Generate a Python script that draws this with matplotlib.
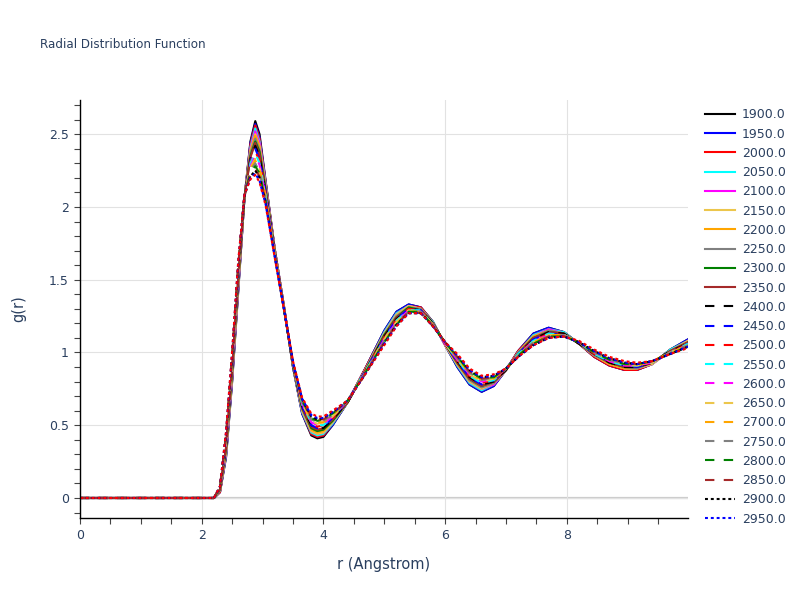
import matplotlib
matplotlib.use("Agg")
import matplotlib.pyplot as plt
from matplotlib.ticker import MultipleLocator

# r grid shared by every temperature (Angstrom)
r = [0.0, 2.2, 2.3, 2.4, 2.5, 2.6, 2.7, 2.8, 2.88, 2.95, 3.05, 3.2, 3.35, 3.5, 3.65,
     3.8, 3.9, 4.0, 4.15, 4.4, 4.7, 5.0, 5.2, 5.4, 5.6, 5.8, 6.0, 6.2, 6.4, 6.6, 6.8,
     7.0, 7.2, 7.45, 7.7, 7.95, 8.2, 8.45, 8.7, 8.95, 9.15, 9.4, 9.7, 9.99]

temps = [1900, 1950, 2000, 2050, 2100, 2150, 2200, 2250, 2300, 2350, 2400,
         2450, 2500, 2550, 2600, 2650, 2700, 2750, 2800, 2850, 2900, 2950, 3000]

g_1900 = [0, 0, .04, .28, .80, 1.42, 2.05, 2.45, 2.59, 2.50, 2.18, 1.71, 1.32, .90, .58, .43, .41, .42, .50, .66, .90, 1.15, 1.28, 1.33, 1.31, 1.21, 1.05, .90, .78, .73, .77, .88, 1.01, 1.13, 1.17, 1.14, 1.06, .97, .91, .88, .88, .92, 1.02, 1.09]
g_1950 = [0, 0, .04, .29, .81, 1.43, 2.05, 2.44, 2.57, 2.48, 2.17, 1.71, 1.32, .90, .58, .44, .42, .43, .50, .66, .90, 1.15, 1.28, 1.33, 1.31, 1.21, 1.05, .90, .78, .73, .77, .88, 1.01, 1.13, 1.17, 1.14, 1.06, .97, .91, .88, .88, .92, 1.02, 1.09]
g_2000 = [0, 0, .04, .30, .82, 1.44, 2.05, 2.43, 2.56, 2.47, 2.17, 1.71, 1.32, .90, .59, .44, .42, .43, .51, .66, .90, 1.14, 1.27, 1.32, 1.31, 1.21, 1.05, .91, .79, .74, .78, .88, 1.01, 1.12, 1.16, 1.14, 1.06, .97, .91, .88, .88, .92, 1.02, 1.08]
g_2050 = [0, 0, .05, .30, .83, 1.45, 2.05, 2.41, 2.54, 2.45, 2.16, 1.70, 1.32, .90, .59, .45, .43, .44, .51, .66, .89, 1.14, 1.27, 1.32, 1.30, 1.21, 1.05, .91, .79, .74, .78, .88, 1.00, 1.12, 1.16, 1.14, 1.06, .98, .92, .89, .89, .92, 1.02, 1.08]
g_2100 = [0, 0, .05, .31, .84, 1.46, 2.05, 2.40, 2.52, 2.44, 2.15, 1.70, 1.32, .91, .60, .46, .44, .45, .52, .66, .89, 1.13, 1.26, 1.32, 1.30, 1.20, 1.05, .92, .80, .75, .78, .88, 1.00, 1.11, 1.16, 1.13, 1.06, .98, .92, .89, .89, .92, 1.01, 1.08]
g_2150 = [0, 0, .05, .32, .85, 1.47, 2.05, 2.39, 2.50, 2.42, 2.14, 1.70, 1.32, .91, .60, .46, .44, .45, .52, .66, .89, 1.13, 1.26, 1.32, 1.30, 1.20, 1.05, .92, .80, .75, .79, .88, 1.00, 1.11, 1.15, 1.13, 1.06, .98, .92, .89, .89, .92, 1.01, 1.08]
g_2200 = [0, 0, .05, .33, .86, 1.48, 2.06, 2.38, 2.49, 2.41, 2.13, 1.70, 1.31, .91, .61, .47, .45, .46, .53, .66, .89, 1.12, 1.25, 1.31, 1.30, 1.20, 1.06, .92, .81, .76, .79, .88, 1.00, 1.11, 1.15, 1.13, 1.06, .98, .92, .89, .89, .93, 1.01, 1.07]
g_2250 = [0, 0, .05, .34, .87, 1.49, 2.06, 2.37, 2.47, 2.39, 2.13, 1.69, 1.31, .91, .61, .48, .46, .47, .53, .66, .89, 1.12, 1.25, 1.31, 1.30, 1.20, 1.06, .93, .81, .76, .79, .88, 1.00, 1.10, 1.15, 1.13, 1.06, .98, .93, .90, .89, .93, 1.01, 1.07]
g_2300 = [0, 0, .06, .34, .88, 1.50, 2.06, 2.35, 2.45, 2.38, 2.12, 1.69, 1.31, .91, .62, .48, .46, .47, .53, .66, .88, 1.12, 1.24, 1.31, 1.29, 1.20, 1.06, .93, .82, .77, .80, .88, .99, 1.10, 1.14, 1.13, 1.06, .99, .93, .90, .90, .93, 1.01, 1.07]
g_2350 = [0, 0, .06, .35, .89, 1.51, 2.06, 2.34, 2.44, 2.36, 2.11, 1.69, 1.31, .91, .62, .49, .47, .48, .54, .66, .88, 1.11, 1.24, 1.30, 1.29, 1.20, 1.06, .93, .82, .77, .80, .88, .99, 1.10, 1.14, 1.13, 1.06, .99, .93, .90, .90, .93, 1.01, 1.07]
g_2400 = [0, 0, .06, .36, .90, 1.52, 2.06, 2.33, 2.42, 2.35, 2.10, 1.69, 1.31, .91, .63, .50, .48, .48, .54, .66, .88, 1.11, 1.23, 1.30, 1.29, 1.20, 1.06, .94, .83, .78, .80, .88, .99, 1.09, 1.14, 1.13, 1.06, .99, .93, .90, .90, .93, 1.01, 1.06]
g_2450 = [0, 0, .06, .37, .90, 1.52, 2.06, 2.32, 2.40, 2.33, 2.10, 1.68, 1.31, .92, .63, .50, .48, .49, .55, .67, .88, 1.10, 1.23, 1.30, 1.29, 1.19, 1.06, .94, .83, .78, .81, .89, .99, 1.09, 1.13, 1.12, 1.07, .99, .94, .91, .90, .93, 1.00, 1.06]
g_2500 = [0, 0, .06, .38, .91, 1.53, 2.06, 2.31, 2.38, 2.32, 2.09, 1.68, 1.31, .92, .64, .51, .49, .50, .55, .67, .88, 1.10, 1.22, 1.30, 1.29, 1.19, 1.06, .95, .84, .79, .81, .89, .99, 1.08, 1.13, 1.12, 1.07, .99, .94, .91, .91, .93, 1.00, 1.06]
g_2550 = [0, 0, .06, .39, .92, 1.54, 2.06, 2.30, 2.37, 2.30, 2.08, 1.68, 1.31, .92, .64, .52, .50, .50, .56, .67, .88, 1.09, 1.22, 1.29, 1.29, 1.19, 1.06, .95, .84, .79, .81, .89, .99, 1.08, 1.13, 1.12, 1.07, .99, .94, .91, .91, .93, 1.00, 1.06]
g_2600 = [0, 0, .07, .39, .93, 1.55, 2.07, 2.28, 2.35, 2.29, 2.07, 1.68, 1.31, .92, .65, .52, .50, .51, .56, .67, .87, 1.09, 1.21, 1.29, 1.28, 1.19, 1.06, .95, .85, .80, .82, .89, .98, 1.08, 1.12, 1.12, 1.07, 1.00, .94, .91, .91, .93, 1.00, 1.05]
g_2650 = [0, 0, .07, .40, .94, 1.56, 2.07, 2.27, 2.33, 2.27, 2.07, 1.67, 1.31, .92, .65, .53, .51, .52, .56, .67, .87, 1.09, 1.21, 1.29, 1.28, 1.19, 1.06, .96, .85, .80, .82, .89, .98, 1.07, 1.12, 1.12, 1.07, 1.00, .95, .92, .91, .93, 1.00, 1.05]
g_2700 = [0, 0, .07, .41, .95, 1.57, 2.07, 2.26, 2.32, 2.26, 2.06, 1.67, 1.30, .92, .66, .54, .52, .52, .57, .67, .87, 1.08, 1.20, 1.28, 1.28, 1.19, 1.07, .96, .86, .81, .82, .89, .98, 1.07, 1.12, 1.12, 1.07, 1.00, .95, .92, .91, .94, 1.00, 1.05]
g_2750 = [0, 0, .07, .42, .96, 1.58, 2.07, 2.25, 2.30, 2.24, 2.05, 1.67, 1.30, .92, .66, .54, .52, .53, .57, .67, .87, 1.08, 1.20, 1.28, 1.28, 1.19, 1.07, .96, .86, .81, .83, .89, .98, 1.07, 1.11, 1.12, 1.07, 1.00, .95, .92, .92, .94, 1.00, 1.05]
g_2800 = [0, 0, .07, .43, .97, 1.59, 2.07, 2.24, 2.28, 2.23, 2.04, 1.67, 1.30, .93, .67, .55, .53, .54, .58, .67, .87, 1.07, 1.19, 1.28, 1.28, 1.18, 1.07, .97, .87, .82, .83, .89, .98, 1.06, 1.11, 1.11, 1.07, 1.00, .95, .92, .92, .94, .99, 1.04]
g_2850 = [0, 0, .08, .43, .98, 1.60, 2.07, 2.22, 2.26, 2.21, 2.04, 1.66, 1.30, .93, .67, .56, .54, .54, .58, .67, .86, 1.07, 1.19, 1.28, 1.27, 1.18, 1.07, .97, .87, .82, .83, .89, .97, 1.06, 1.11, 1.11, 1.07, 1.01, .96, .93, .92, .94, .99, 1.04]
g_2900 = [0, 0, .08, .44, .99, 1.61, 2.07, 2.21, 2.25, 2.20, 2.03, 1.66, 1.30, .93, .68, .56, .54, .55, .59, .67, .86, 1.06, 1.19, 1.27, 1.27, 1.18, 1.07, .98, .88, .83, .84, .89, .97, 1.05, 1.10, 1.11, 1.07, 1.01, .96, .93, .92, .94, .99, 1.04]
g_2950 = [0, 0, .08, .45, 1.00, 1.62, 2.08, 2.20, 2.23, 2.18, 2.02, 1.66, 1.30, .93, .68, .57, .55, .55, .59, .67, .86, 1.06, 1.18, 1.27, 1.27, 1.18, 1.07, .98, .88, .83, .84, .89, .97, 1.05, 1.10, 1.11, 1.07, 1.01, .96, .93, .92, .94, .99, 1.04]
g_3000 = [0, 0, .08, .46, 1.01, 1.63, 2.08, 2.19, 2.22, 2.17, 2.01, 1.65, 1.30, .94, .69, .58, .56, .56, .60, .67, .86, 1.05, 1.18, 1.27, 1.27, 1.18, 1.07, .99, .89, .84, .85, .89, .97, 1.05, 1.10, 1.11, 1.08, 1.02, .97, .94, .93, .94, .99, 1.03]

series = [g_1900, g_1950, g_2000, g_2050, g_2100, g_2150, g_2200, g_2250, g_2300,
          g_2350, g_2400, g_2450, g_2500, g_2550, g_2600, g_2650, g_2700, g_2750,
          g_2800, g_2850, g_2900, g_2950, g_3000]

colors = ["black", "blue", "red", "cyan", "magenta", "#ecc64c", "orange", "gray",
          "green", "brown"]
text_col = "#2a3f5f"

fig = plt.figure(figsize=(8, 6), dpi=100)
ax = fig.add_axes([0.1, 82 / 600, 0.76, 418 / 600])

handles = []
for i, (t, g) in enumerate(zip(temps, series)):
    assert len(g) == len(r), t
    if i < 10:
        ls = "-"
    elif i < 20:
        ls = (0, (4.5, 4.5))
    else:
        ls = (0, (1.4, 1.4))
    line, = ax.plot(r, g, color=colors[i % 10], linestyle=ls, lw=1.5,
                    label="%.1f" % t)
    handles.append(line)

# the legend box of the original is cut off after 22 entries
fig.legend(handles=handles[:22], loc="upper left", bbox_to_anchor=(0.881, 0.8195),
           frameon=False, fontsize=9, labelcolor=text_col, handlelength=2.4,
           handletextpad=0.55, labelspacing=0.5, borderpad=0, borderaxespad=0)

ax.set_xlim(0, 9.99)
ax.set_ylim(-0.1375, 2.735)
ax.xaxis.set_major_locator(MultipleLocator(2))
ax.xaxis.set_minor_locator(MultipleLocator(0.5))
ax.yaxis.set_major_locator(MultipleLocator(0.5))
ax.yaxis.set_minor_locator(MultipleLocator(0.1))
ax.yaxis.set_major_formatter(plt.FuncFormatter(lambda v, p: ("%g" % v)))

ax.grid(True, which="major", color="#e2e2e2", lw=0.8)
ax.set_axisbelow(True)
ax.axhline(0, color="#cccccc", lw=1.6, zorder=0.5)

for s in ["top", "right"]:
    ax.spines[s].set_visible(False)
for s in ["left", "bottom"]:
    ax.spines[s].set_color("black")
    ax.spines[s].set_linewidth(1)
ax.tick_params(which="both", direction="out", length=4, width=0.8, color="#444444",
               labelsize=9, labelcolor=text_col, pad=4)

ax.set_xlabel("r (Angstrom)", fontsize=10.5, color=text_col, labelpad=11)
ax.set_ylabel("g(r)", fontsize=10.5, color=text_col, labelpad=16)
fig.text(40 / 800, 1 - 45 / 600, "Radial Distribution Function", fontsize=8.6,
         color=text_col, va="center", ha="left")

fig.savefig("out.png", dpi=100)
